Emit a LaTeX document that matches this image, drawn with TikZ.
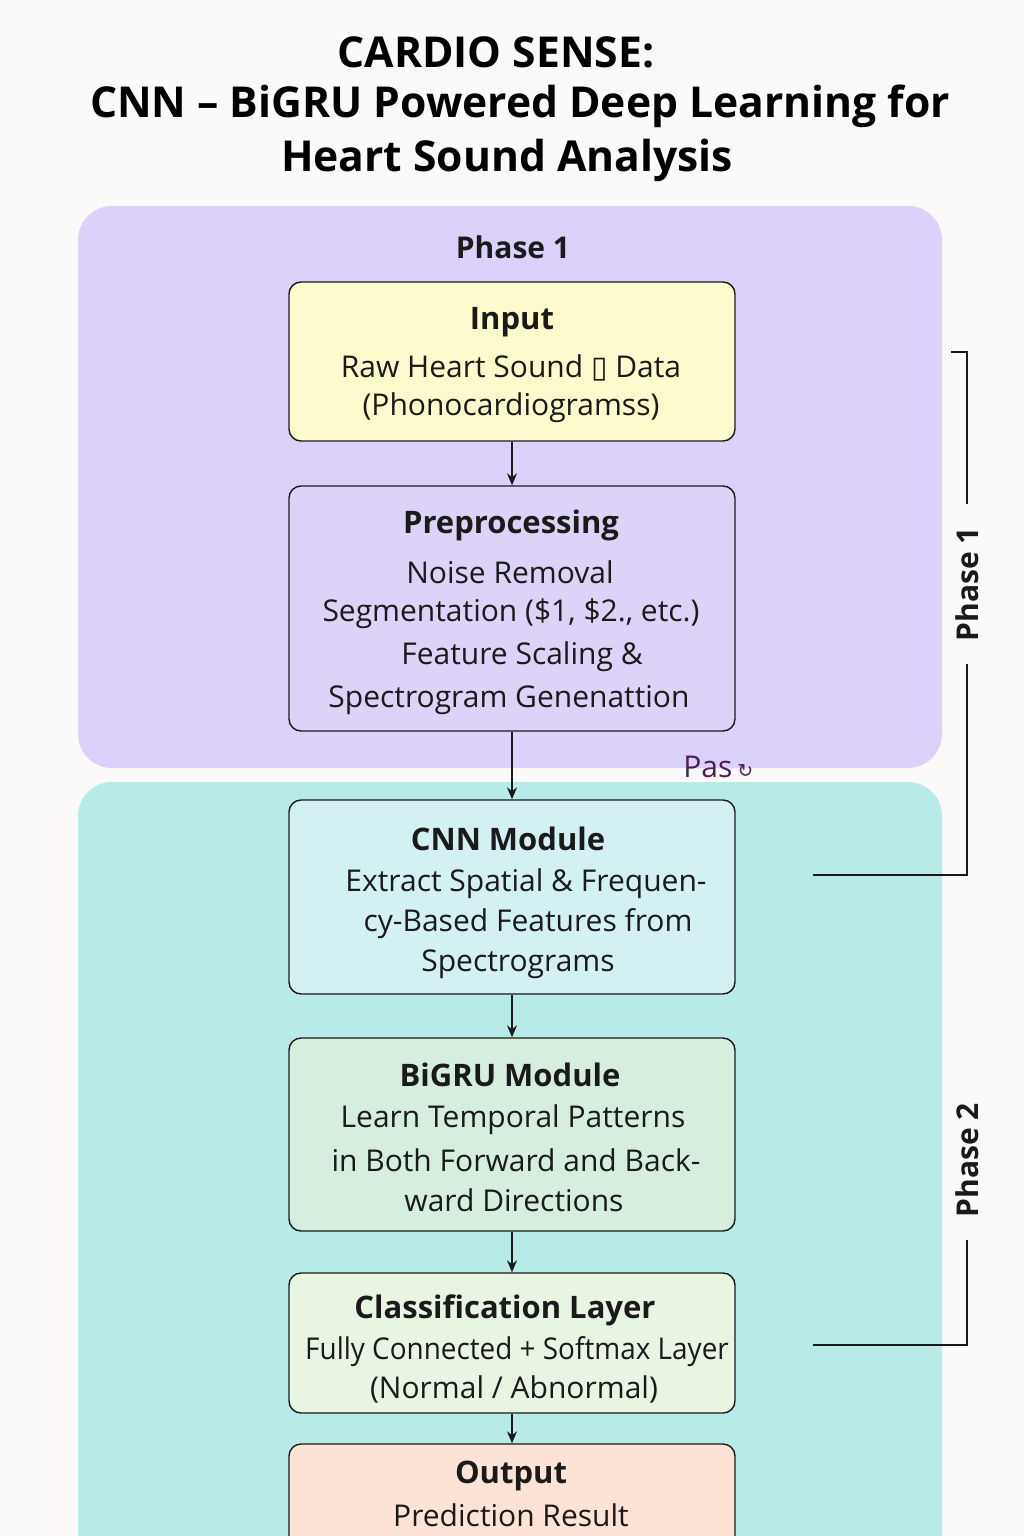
\documentclass[tikz,border=0pt]{standalone}
\usepackage{fontspec}
\setmainfont{Open Sans}
\newfontfamily\symfont{DejaVu Sans}
\usetikzlibrary{arrows.meta}
\definecolor{bg}{HTML}{FBFAF8}
\definecolor{panelA}{HTML}{DCD1FB}
\definecolor{panelB}{HTML}{B8EBE8}
\definecolor{inputfill}{HTML}{FDFBCD}
\definecolor{prepfill}{HTML}{DDD3F9}
\definecolor{cnnfill}{HTML}{D3F0F3}
\definecolor{grufill}{HTML}{D5EEDD}
\definecolor{clsfill}{HTML}{E8F5E3}
\definecolor{outfill}{HTML}{FDE3D5}
\definecolor{ink}{HTML}{1A1A1A}
\definecolor{plum}{HTML}{4B1E5A}
\tikzset{
  stagebox/.style={draw=ink, line width=0.7pt, rounded corners=6pt, minimum width=223pt, inner sep=0pt},
  boxtitle/.style={font=\fontsize{15.5}{18}\selectfont\bfseries, text=ink, inner sep=0pt},
  boxline/.style={font=\fontsize{15}{17}\selectfont, text=ink, inner sep=0pt},
  maintitle/.style={font=\fontsize{21.3}{26}\selectfont\bfseries, text=black, inner sep=0pt},
  phaselabel/.style={font=\fontsize{15}{18}\selectfont\bfseries, text=ink, inner sep=11pt},
  flow/.style={draw=ink, line width=0.7pt, -{Stealth[length=6pt,width=5pt]}},
  bracket/.style={draw=ink, line width=0.7pt},
}
\begin{document}
\begin{tikzpicture}[x=0.5pt,y=-0.5pt]
\clip (0,0) rectangle (1024,1536);
\fill[bg] (0,0) rectangle (1024,1536);

% title
\node[maintitle] (t1) at (496,52) {CARDIO SENSE:};
\node[maintitle] (t2) at (520,106) {CNN – BiGRU Powered Deep Learning for};
\node[maintitle] (t3) at (507,160) {Heart Sound Analysis};

% panels
\fill[panelA, rounded corners=17pt] (78,206) rectangle (942,768);
\fill[panelB, rounded corners=17pt] (78,782) rectangle (942,1640);
\node[font=\fontsize{15}{18}\selectfont\bfseries, text=ink, inner sep=0pt] (p1title) at (513,247) {Phase 1};

% boxes
\node[stagebox, fill=inputfill, minimum height=79.5pt] (input) at (512,361.5) {};
\node[stagebox, fill=prepfill, minimum height=122.5pt] (prep) at (512,608.5) {};
\node[stagebox, fill=cnnfill, minimum height=97pt] (cnn) at (512,897) {};
\node[stagebox, fill=grufill, minimum height=96.5pt] (gru) at (512,1134.5) {};
\node[stagebox, fill=clsfill, minimum height=70pt] (cls) at (512,1343) {};
\node[stagebox, fill=outfill, minimum height=60pt] (out) at (512,1504) {};

% texts
\node[boxtitle] (inputT) at (512,322) {Input};
\node[boxline] (inputL1) at (511,368) {Raw Heart Sound {\symfont ▯} Data};
\node[boxline] (inputL2) at (511,408) {(Phonocardiogramss)};

\node[boxtitle] (prepT) at (511,525) {Preprocessing};
\node[boxline] (prepL1) at (510,572) {Noise Removal};
\node[boxline] (prepL2) at (511,614) {Segmentation (\$1, \$2., etc.)};
\node[boxline] (prepL3) at (522,657) {Feature Scaling \&};
\node[boxline] (prepL4) at (509,700) {Spectrogram Genenattion};

\node[boxtitle] (cnnT) at (508,839) {CNN Module};
\node[boxline] (cnnL1) at (526,884) {Extract Spatial \& Frequen-};
\node[boxline] (cnnL2) at (528,924) {cy-Based Features from};
\node[boxline] (cnnL3) at (518,964) {Spectrograms};

\node[boxtitle] (gruT) at (510,1075) {BiGRU Module};
\node[boxline] (gruL1) at (513,1120) {Learn Temporal Patterns};
\node[boxline] (gruL2) at (516,1160) {in Both Forward and Back-};
\node[boxline] (gruL3) at (514,1200) {ward Directions};

\node[boxtitle] (clsT) at (505,1310) {Classification Layer};
\node[boxline] (clsL1) at (517,1352) {\scalebox{0.93}[1]{Fully Connected + Softmax Layer}};
\node[boxline] (clsL2) at (514,1389) {(Normal / Abnormal)};

\node[boxtitle] (outT) at (511,1476) {Output};
\node[boxline] (outL1) at (511,1515) {Prediction Result};

% stray label
\node[boxline, text=plum, anchor=west] (pas) at (683,767) {Pas\,{\symfont\fontsize{9.5}{10}\selectfont ↻}};

% arrows
\draw[flow] (input) -- (prep);
\draw[flow] (prep) -- (cnn);
\draw[flow] (cnn) -- (gru);
\draw[flow] (gru) -- (cls);
\draw[flow] (cls) -- (out);

% brackets
\node[phaselabel, rotate=90] (ph1) at (967,584) {Phase 1};
\node[phaselabel, rotate=90] (ph2) at (967,1160) {Phase 2};
\coordinate (b1top) at (951,352);
\coordinate (b1end) at (813,875);
\coordinate (b2end) at (813,1345);
\draw[bracket] (b1top) -| (ph1.east);
\draw[bracket] (ph1.west) |- (b1end);
\draw[bracket] (ph2.west) |- (b2end);
\end{tikzpicture}
\end{document}
